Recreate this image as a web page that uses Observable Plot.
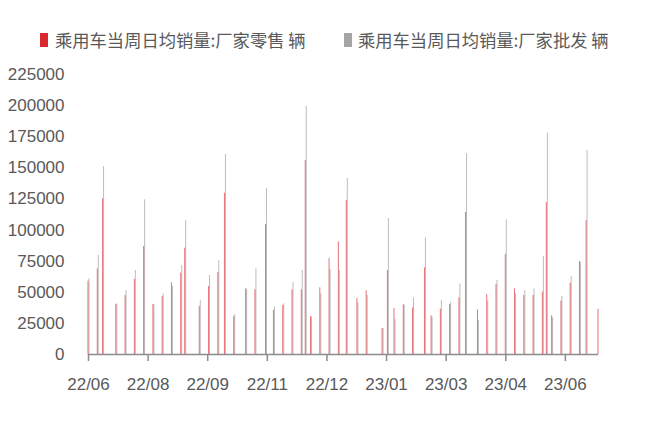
<!DOCTYPE html>
<html>
<head>
<meta charset="utf-8">
<script src="https://cdn.jsdelivr.net/npm/d3@7"></script>
<script src="https://cdn.jsdelivr.net/npm/@observablehq/plot@0.6"></script>
<style>
  html, body { margin: 0; padding: 0; background: #fff; }
  #wrap { position: relative; width: 648px; height: 421px; overflow: hidden; }
  #legend { position: relative; width: 648px; height: 60px; font-family: "Noto Sans CJK SC", sans-serif; font-size: 17.3px; color: #595959; }
  .sw { position: absolute; top: 33px; width: 8px; height: 14px; }
  .lt { position: absolute; top: 28px; line-height: 24px; white-space: nowrap; }
</style>
</head>
<body>
<div id="wrap">
  <div id="legend"></div>
  <div id="chart"></div>
</div>
<script>
const seriesNames = ["乘用车当周日均销量:厂家零售 辆", "乘用车当周日均销量:厂家批发 辆"];
const seriesColors = ["#d9282f", "#a5a5a5"];

const dates = [
  "2022-06-19","2022-06-26","2022-06-30","2022-07-10","2022-07-17","2022-07-24","2022-07-31",
  "2022-08-07","2022-08-14","2022-08-21","2022-08-28","2022-08-31","2022-09-11","2022-09-18",
  "2022-09-25","2022-09-30","2022-10-07","2022-10-16","2022-10-23","2022-10-31","2022-11-06",
  "2022-11-13","2022-11-20","2022-11-27","2022-11-30","2022-12-04","2022-12-11","2022-12-18",
  "2022-12-25","2022-12-31","2023-01-08","2023-01-15","2023-01-27","2023-01-31","2023-02-05",
  "2023-02-12","2023-02-19","2023-02-28","2023-03-05","2023-03-12","2023-03-19","2023-03-26",
  "2023-03-31","2023-04-09","2023-04-16","2023-04-23","2023-04-30","2023-05-07","2023-05-14",
  "2023-05-21","2023-05-28","2023-05-31","2023-06-04","2023-06-11","2023-06-18","2023-06-25",
  "2023-06-30","2023-07-09"
];
const retail = [
  58900, 68800, 125000, 40200, 47400, 60300, 86800,
  40200, 46600, 57600, 65400, 85400, 38600, 54600,
  65900, 129600, 30500, 52800, 52000, 104500, 35400,
  39400, 52000, 52000, 155900, 30500, 53600, 77100,
  90500, 123800, 45000, 51400, 20900, 67500, 37000,
  40200, 37500, 69600, 31100, 36400, 40200, 45500,
  114100, 35900, 48200, 56200, 80400, 52800, 47400,
  47400, 50100, 122100, 31100, 42900, 57300, 74700,
  107700, 36300
];
const wholesale = [
  60800, 79600, 151000, 40700, 51400, 67500, 124300,
  40000, 48700, 54600, 71500, 107700, 43400, 63500,
  75500, 160700, 32100, 52000, 68800, 133400, 38000,
  40700, 57900, 67500, 199300, 30000, 48700, 68300,
  67500, 141400, 41200, 47400, 20900, 109300, 27900,
  39400, 45500, 93700, 30000, 43400, 41800, 56800,
  161300, 27300, 42900, 59500, 108200, 48700, 51400,
  52800, 78800, 177900, 29500, 46600, 62700, 74000,
  163900, null
];
const xTickDates = ["2022-06-19","2022-08-03","2022-09-17","2022-11-01","2022-12-16","2023-01-30","2023-03-16","2023-04-30","2023-06-14"];
const xTickLabels = ["22/06","22/08","22/09","22/11","22/12","23/01","23/03","23/04","23/06"];
const yTicks = [0, 25000, 50000, 75000, 100000, 125000, 150000, 175000, 200000, 225000];

// legend
const legend = document.getElementById("legend");
const legendPos = [{sw: 40, tx: 55}, {sw: 344, tx: 358}];
seriesNames.forEach((name, i) => {
  const s = document.createElement("div");
  s.className = "sw";
  s.style.left = legendPos[i].sw + "px";
  s.style.background = seriesColors[i];
  legend.appendChild(s);
  const t = document.createElement("div");
  t.className = "lt";
  t.style.left = legendPos[i].tx + "px";
  t.textContent = name;
  legend.appendChild(t);
});

const data = dates.map((d, i) => ({date: new Date(d), retail: retail[i], wholesale: wholesale[i]}));
const tickDateObjs = xTickDates.map(d => new Date(d));
const labelMap = new Map(tickDateObjs.map((d, i) => [+d, xTickLabels[i]]));

const chart = Plot.plot({
  width: 648,
  height: 361,
  marginLeft: 88,
  marginRight: 50,
  marginTop: 14,
  marginBottom: 67,
  style: {fontFamily: "'Liberation Sans', Arial, sans-serif", fontSize: "17px", color: "#595959", background: "transparent"},
  x: {type: "utc", domain: [data[0].date, data[data.length - 1].date]},
  y: {domain: [0, 225000]},
  marks: [
    Plot.ruleX(data.filter(d => d.wholesale != null), {x: "date", y1: 0, y2: "wholesale", stroke: seriesColors[1], strokeWidth: 1, strokeOpacity: 0.75, dx: 0.5}),
    Plot.ruleX(data, {x: "date", y1: 0, y2: "retail", stroke: seriesColors[0], strokeWidth: 1, strokeOpacity: 0.65, dx: -0.5}),
    Plot.ruleY([0], {stroke: "#8c8c8c", strokeWidth: 1.5}),
    Plot.axisX(tickDateObjs, {tickSize: 7, tickPadding: 16, stroke: "#8c8c8c", fill: "#595959", strokeWidth: 1.5, tickFormat: d => labelMap.get(+d), label: null}),
    Plot.axisY(yTicks, {tickSize: 0, tickPadding: 24, fill: "#595959", tickFormat: d3.format("d"), label: null})
  ]
});
document.getElementById("chart").appendChild(chart);
</script>
</body>
</html>
